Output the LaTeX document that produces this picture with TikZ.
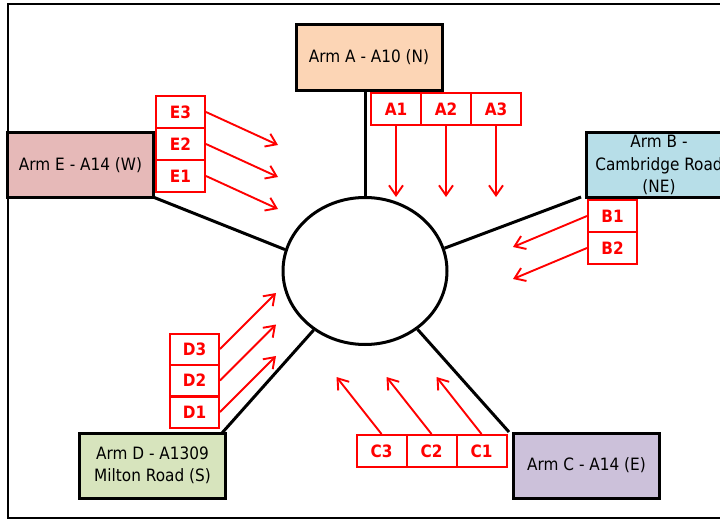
\documentclass[tikz,border=0pt]{standalone}
\usepackage{fontspec}
\setmainfont{DejaVu Sans}[FakeStretch=0.9]
\usetikzlibrary{arrows.meta,shapes.geometric}
\definecolor{armA}{HTML}{FCD5B5}
\definecolor{armB}{HTML}{B7DEE8}
\definecolor{armC}{HTML}{CCC1DA}
\definecolor{armD}{HTML}{D7E4BD}
\definecolor{armE}{HTML}{E6B9B8}
\definecolor{lblred}{HTML}{FF0000}
\begin{document}
\begin{tikzpicture}[x=1pt,y=-1pt,
  armbox/.style={draw=black,line width=3pt,minimum width=146pt,minimum height=65pt,
    inner sep=0pt,align=center,font=\fontsize{17}{22.5}\selectfont},
  lbl/.style={draw=lblred,line width=2pt,text=lblred,minimum width=50pt,minimum height=32pt,
    inner sep=0pt,font=\fontsize{17}{18}\selectfont\bfseries},
  road/.style={draw=black,line width=3pt},
  arr/.style={draw=lblred,line width=1.9pt,-{Straight Barb[length=10pt,width=14pt,line width=1.9pt]}}]
\useasboundingbox (0,0) rectangle (720,519);
\draw[line width=2pt] (8,4.5) rectangle (760,517.5);
% roundabout
\node[ellipse,draw=black,line width=3pt,minimum width=164pt,minimum height=147pt,inner sep=0pt] (O) at (365,271) {};
% arms
\node[armbox,fill=armA] (A) at (369,57.5) {Arm A - A10 (N)};
\node[armbox,fill=armB] (B) at (659,165) {Arm B -\\Cambridge Road\\(NE)};
\node[armbox,fill=armC] (C) at (586.5,465.5) {Arm C - A14 (E)};
\node[armbox,fill=armD] (D) at (152.5,465.5) {Arm D - A1309\\Milton Road (S)};
\node[armbox,fill=armE] (E) at (80.5,165) {Arm E - A14 (W)};
% roads
\coordinate (Aend) at (365,90);
\coordinate (Bend) at (581,197);
\coordinate (Cend) at (509,432);
\coordinate (Dend) at (222,433);
\coordinate (Eend) at (153,197);
\draw[road] (O.north) -- (Aend);
\draw[road] (O.16) -- (Bend);
\draw[road] (O.-48.6) -- (Cend);
\draw[road] (O.229.6) -- (Dend);
\draw[road] (O.165) -- (Eend);
% lane labels
\node[lbl] (A1) at (396,109) {A1};
\node[lbl] (A2) at (446,109) {A2};
\node[lbl] (A3) at (496,109) {A3};
\node[lbl,minimum width=49pt] (B1) at (612.5,216) {B1};
\node[lbl,minimum width=49pt] (B2) at (612.5,248) {B2};
\node[lbl] (C1) at (481.5,451) {C1};
\node[lbl] (C2) at (431.5,451) {C2};
\node[lbl] (C3) at (381.5,451) {C3};
\node[lbl,minimum width=49pt,minimum height=31pt] (D3) at (194.5,349) {D3};
\node[lbl,minimum width=49pt,minimum height=31pt] (D2) at (194.5,380.5) {D2};
\node[lbl,minimum width=49pt,minimum height=31pt] (D1) at (194.5,412) {D1};
\node[lbl,minimum width=49pt] (E3) at (180.5,112) {E3};
\node[lbl,minimum width=49pt] (E2) at (180.5,144) {E2};
\node[lbl,minimum width=49pt] (E1) at (180.5,176) {E1};
% arrows
\foreach \n in {A1,A2,A3} \draw[arr] (\n.south) -- ++(0,71);
\foreach \n in {B1,B2} \draw[arr] (\n.west) -- ++(-74,31);
\foreach \n in {C1,C2,C3} \draw[arr] (\n.north) -- ++(-45,-57);
\foreach \n in {D1,D2,D3} \draw[arr] (\n.east) -- ++(56,-56);
\foreach \n in {E1,E2,E3} \draw[arr] (\n.east) -- ++(72,33);
\end{tikzpicture}
\end{document}
